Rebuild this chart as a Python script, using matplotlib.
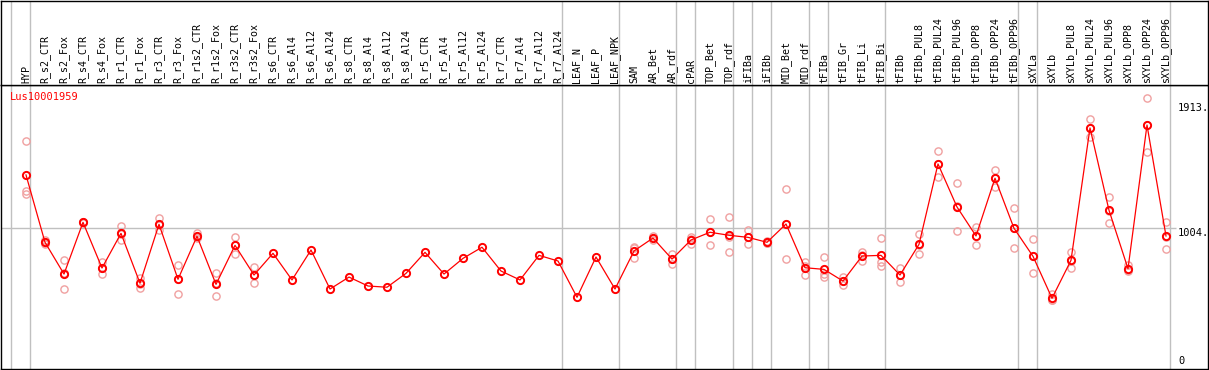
import numpy as np
import matplotlib.pyplot as plt
from matplotlib.transforms import blended_transform_factory

# sample names, in column order
samples = ["HYP",
           "R_s2_CTR", "R_s2_Fox", "R_s4_CTR", "R_s4_Fox", "R_r1_CTR", "R_r1_Fox",
           "R_r3_CTR", "R_r3_Fox", "R_r1s2_CTR", "R_r1s2_Fox", "R_r3s2_CTR", "R_r3s2_Fox",
           "R_s6_CTR", "R_s6_Al4", "R_s6_Al12", "R_s6_Al24",
           "R_s8_CTR", "R_s8_Al4", "R_s8_Al12", "R_s8_Al24",
           "R_r5_CTR", "R_r5_Al4", "R_r5_Al12", "R_r5_Al24",
           "R_r7_CTR", "R_r7_Al4", "R_r7_Al12", "R_r7_Al24",
           "LEAF_N", "LEAF_P", "LEAF_NPK",
           "SAM", "AR_Bet", "AR_rdf", "cPAR", "TOP_Bet", "TOP_rdf", "iFIBa", "iFIBb",
           "MID_Bet", "MID_rdf", "tFIBa", "tFIB_Gr", "tFIB_Li", "tFIB_Bi",
           "tFIBb", "tFIBb_PUL8", "tFIBb_PUL24", "tFIBb_PUL96", "tFIBb_OPP8", "tFIBb_OPP24", "tFIBb_OPP96",
           "sXYLa", "sXYLb", "sXYLb_PUL8", "sXYLb_PUL24", "sXYLb_PUL96", "sXYLb_OPP8", "sXYLb_OPP24", "sXYLb_OPP96"]

# mean expression per sample
means = [1390,
         900, 669, 1045, 713, 965, 602, 1031, 631, 944, 594, 878, 662,
         820, 626, 844, 560, 647, 582, 573, 674, 827, 669, 783, 864, 691, 626, 805, 764,
         500, 793, 560,
         837, 931, 778, 917, 973, 951, 936, 900, 1033, 715, 703, 618, 800, 805,
         662, 885, 1470, 1157, 946, 1366, 1002,
         798, 493, 769, 1732, 1133, 708, 1753, 946]

# replicate values (empty where only the mean is shown)
replicates = [[1637, 1275, 1251],
              [915, 890, 895], [771, 558, 678], [1050, 1040, 1045], [757, 667, 715],
              [1018, 917, 960], [642, 570, 594], [1075, 989, 1029], [733, 524, 636],
              [968, 929, 935], [674, 507, 601], [938, 813, 883], [720, 602, 664],
              [], [], [], [], [], [], [], [], [], [], [], [], [], [], [], [],
              [], [], [],
              [861, 784, 866], [946, 917, 930], [813, 742, 780], [941, 885, 925],
              [1069, 878, 972], [1082, 829, 942], [987, 885, 936], [912, 893, 895],
              [1286, 778, 1035], [757, 664, 724], [793, 647, 669], [650, 589, 615],
              [829, 766, 805], [929, 759, 728],
              [713, 609, 664], [960, 815, 880], [1564, 1377, 1469], [1329, 980, 1162],
              [1013, 880, 945], [1426, 1304, 1368], [1147, 858, 1001],
              [922, 674, 798], [522, 480, 477], [829, 711, 767], [1795, 1668, 1733],
              [1230, 1038, 1131], [733, 691, 700], [1950, 1555, 1754], [1050, 851, 937]]

# last sample index of each group (-1 = left edge)
group_ends = [-1, 0, 28, 31, 34, 35, 37, 38, 39, 41, 42, 45, 52, 53, 60]

gene = "Lus10001959"
ytick_vals = [1913, 1004, 0]
ytick_text = ["1913.", "1004.", "0"]

W, H = 1209, 370
fig = plt.figure(figsize=(W / 100, H / 100), dpi=100)
mono = "DejaVu Sans Mono"
fs = 7.2
grey = "#c0c0c0"
red = "#ff0000"
pink = "#f0a0a0"

x = np.arange(len(samples))
xlim = ((1 - 26) / 19, (1208 - 26) / 19)
px_per_val = 0.13745
ylim = ((366 - 369) / px_per_val, (366 - 85) / px_per_val)

ax = fig.add_axes([1 / W, 1 / H, 1207 / W, 284 / H])
hax = fig.add_axes([1 / W, 285 / H, 1207 / W, 84.5 / H], sharex=ax)
ax.set_xlim(*xlim)
ax.set_ylim(*ylim)
hax.set_ylim(0, 1)
for a in (ax, hax):
    a.set_xticks([])
    a.set_yticks([])
    for sp in a.spines.values():
        sp.set_linewidth(1.0)
        sp.set_color("black")
    for g in group_ends:
        a.axvline(g + 0.225, color=grey, lw=1.0, zorder=0)

# reference line at the middle tick
ax.hlines(1004, xlim[0], 60.55, color=grey, lw=1.0, zorder=0)

# replicate circles
for i, reps in enumerate(replicates):
    if reps:
        ax.plot([i] * len(reps), reps, "o", ms=5.2, mfc="none", mec=pink, mew=1.0, zorder=2)

# mean line and points
ax.plot(x, means, "-", color=red, lw=0.9, zorder=3)
ax.plot(x, means, "o", ms=5.2, mfc="none", mec=red, mew=1.4, zorder=4)

# sample labels in the header
for i, name in enumerate(samples):
    hax.text(i, 2 / 84.5, name, rotation=90, ha="center", va="bottom",
             fontsize=fs, family=mono, color="black")

ax.text((10 - 26) / 19, (366 - 97) / px_per_val, gene, ha="left", va="center",
        fontsize=fs + 0.3, family=mono, color=red)

tx = (1178 - 26) / 19
for v, t in zip(ytick_vals, ytick_text):
    ax.text(tx, v, t, ha="left", va="bottom" if v == 0 else "top",
            fontsize=fs + 0.3, family=mono, color="black")

fig.savefig("out.png", dpi=100)
